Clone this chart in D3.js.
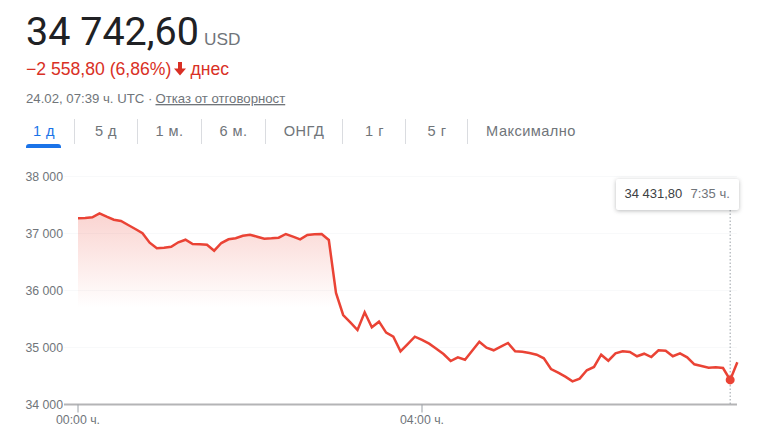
<!DOCTYPE html>
<html>

<head>
    <meta charset="utf-8">
    <style>
        html, body {
            margin: 0;
            padding: 0;
            background: white;
        }

        svg {
            display: block;
            font-family: Arial, "Liberation Sans", sans-serif;
        }

        .tooltip-box {
            filter: drop-shadow(0 1px 2px rgba(60, 64, 67, 0.35));
        }
    </style>
</head>

<body>
    <svg width="763" height="433"></svg>
</body>

<script src="https://d3js.org/d3.v7.min.js"></script>

<script>
    // one price every 5 minutes
    let prices = [
        37267, 37272, 37284, 37354, 37295, 37242, 37219, 37149, 37079, 37004,
        36839, 36740, 36751, 36768, 36846, 36891, 36816, 36811, 36804, 36698,
        36833, 36898, 36916, 36961, 36979, 36944, 36909, 36916, 36926, 36991,
        36944, 36898, 36974, 36986, 36991, 36886, 35956, 35570, 35442, 35307,
        35618, 35354, 35453, 35260, 35189, 34933, 35061, 35189, 35132, 35067,
        34979, 34886, 34763, 34828, 34786, 34944, 35102, 34996, 34951, 35014,
        35079, 34933, 34926, 34904, 34874, 34811, 34623, 34558, 34488, 34407,
        34453, 34600, 34658, 34874, 34768, 34898, 34933, 34921, 34846, 34891,
        34833, 34951, 34944, 34846, 34898, 34828, 34705, 34675, 34646, 34653,
        34640, 34431.8, 34742.6
    ];
    let stepMinutes = 5;
    let yTicks = [34000, 35000, 36000, 37000, 38000];
    let yTickLabels = ["34 000", "35 000", "36 000", "37 000", "38 000"];
    let xTicks = [0, 240];
    let xTickLabels = ["00:00 ч.", "04:00 ч."];
    let tabs = ["1 д", "5 д", "1 м.", "6 м.", "ОНГД", "1 г", "5 г", "Максимално"];
    let tabCentres = [44, 106, 169.5, 233.5, 304, 374.5, 437, 531];
    let tabSeparators = [74.5, 137.5, 201.5, 265.5, 342.5, 405.5, 467.5];
    let hoverIndex = 91;

    let svg = d3.select("svg");
    let grey = "#70757a";
    let red = "#ea4335";

    // header
    svg.append("text").attr("x", 26).attr("y", 45)
        .style("font-family", "Roboto").style("font-size", "39.5px").style("fill", "#202124")
        .text("34 742,60");
    svg.append("text").attr("x", 204).attr("y", 45)
        .style("font-size", "17.3px").style("fill", grey)
        .text("USD");

    svg.append("text").attr("x", 26).attr("y", 75)
        .style("font-size", "17.6px").style("fill", "#d93025")
        .text("−2 558,80 (6,86%)");
    svg.append("path")
        .attr("d", "M178 62h4v6.5h4l-6 7l-6-7h4z")
        .style("fill", "#d93025");
    svg.append("text").attr("x", 190.5).attr("y", 75)
        .style("font-size", "17.6px").style("fill", "#d93025")
        .text("днес");

    svg.append("text").attr("x", 26).attr("y", 103)
        .style("font-size", "13.2px").style("fill", grey)
        .text("24.02, 07:39 ч. UTC · ");
    svg.append("text").attr("x", 155.5).attr("y", 103)
        .style("font-size", "13.2px").style("fill", grey).style("text-decoration", "underline")
        .text("Отказ от отговорност");

    // range tabs
    svg.selectAll(".tab")
        .data(tabs)
        .join("text")
        .attr("class", "tab")
        .attr("x", (d, i) => tabCentres[i])
        .attr("y", 136)
        .attr("text-anchor", "middle")
        .style("font-size", "14.6px")
        .style("letter-spacing", "0.45px")
        .style("fill", (d, i) => i == 0 ? "#1a73e8" : grey)
        .text(d => d);
    svg.selectAll(".tab-sep")
        .data(tabSeparators)
        .join("line")
        .attr("class", "tab-sep")
        .attr("x1", d => d).attr("x2", d => d)
        .attr("y1", 119).attr("y2", 144)
        .style("stroke", "#dadce0");
    svg.append("path")
        .attr("d", "M26 148v-1a3 3 0 0 1 3-3h29a3 3 0 0 1 3 3v1z")
        .style("fill", "#1a73e8");

    // chart
    let x = d3.scaleLinear().domain([0, 240]).range([78, 422]);
    let y = d3.scaleLinear().domain([34000, 38000]).range([404.5, 176.5]);

    let points = prices.map((p, i) => ({ minute: i * stepMinutes, price: p }));

    svg.selectAll(".grid")
        .data(yTicks.slice(1))
        .join("line")
        .attr("class", "grid")
        .attr("x1", 64).attr("x2", 737)
        .attr("y1", d => y(d)).attr("y2", d => y(d))
        .style("stroke", "#f8f9fa");

    svg.selectAll(".y-label")
        .data(yTicks)
        .join("text")
        .attr("class", "y-label")
        .attr("x", 63)
        .attr("y", d => y(d) + 4)
        .attr("text-anchor", "end")
        .style("font-size", "12.3px")
        .style("fill", grey)
        .text((d, i) => yTickLabels[i]);

    // fill fades out well above the baseline, so the late part has none
    let defs = svg.append("defs");
    let gradient = defs.append("linearGradient")
        .attr("id", "fade")
        .attr("gradientUnits", "userSpaceOnUse")
        .attr("x1", 0).attr("x2", 0)
        .attr("y1", y(37354)).attr("y2", y(35700));
    gradient.append("stop").attr("offset", 0).attr("stop-color", red).attr("stop-opacity", 0.23);
    gradient.append("stop").attr("offset", 1).attr("stop-color", red).attr("stop-opacity", 0);

    let area = d3.area()
        .x(d => x(d.minute))
        .y0(y(34000))
        .y1(d => y(d.price));
    svg.append("path")
        .datum(points)
        .attr("d", area)
        .style("fill", "url(#fade)");

    // axis line and ticks
    svg.append("line")
        .attr("x1", 64).attr("x2", 737)
        .attr("y1", y(34000)).attr("y2", y(34000))
        .style("stroke", "#b4b4b6").style("stroke-width", 2);
    svg.selectAll(".x-tick")
        .data(xTicks)
        .join("line")
        .attr("class", "x-tick")
        .attr("x1", d => x(d)).attr("x2", d => x(d))
        .attr("y1", y(34000)).attr("y2", y(34000) + 8)
        .style("stroke", "#9aa0a6");
    svg.selectAll(".x-label")
        .data(xTicks)
        .join("text")
        .attr("class", "x-label")
        .attr("x", d => x(d))
        .attr("y", 424)
        .attr("text-anchor", "middle")
        .style("font-size", "12.3px")
        .style("fill", grey)
        .text((d, i) => xTickLabels[i]);

    // hover marker
    let hover = points[hoverIndex];
    svg.append("line")
        .attr("x1", x(hover.minute)).attr("x2", x(hover.minute))
        .attr("y1", 210).attr("y2", y(34000))
        .style("stroke", "#9aa0a6")
        .style("stroke-dasharray", "1.5 2");

    let line = d3.line()
        .x(d => x(d.minute))
        .y(d => y(d.price));
    svg.append("path")
        .datum(points)
        .attr("d", line)
        .style("fill", "none")
        .style("stroke", red)
        .style("stroke-width", 2.5);

    svg.append("circle")
        .attr("cx", x(hover.minute))
        .attr("cy", y(hover.price))
        .attr("r", 4.5)
        .style("fill", red);

    // tooltip
    svg.append("rect")
        .attr("class", "tooltip-box")
        .attr("x", 616).attr("y", 179)
        .attr("width", 123).attr("height", 31)
        .attr("rx", 2)
        .style("fill", "white");
    svg.append("text").attr("x", 624.5).attr("y", 198)
        .style("font-size", "13px").style("fill", "#3c4043")
        .text("34 431,80");
    svg.append("text").attr("x", 690.5).attr("y", 198)
        .style("font-size", "13px").style("fill", grey)
        .text("7:35 ч.");
</script>

</html>
